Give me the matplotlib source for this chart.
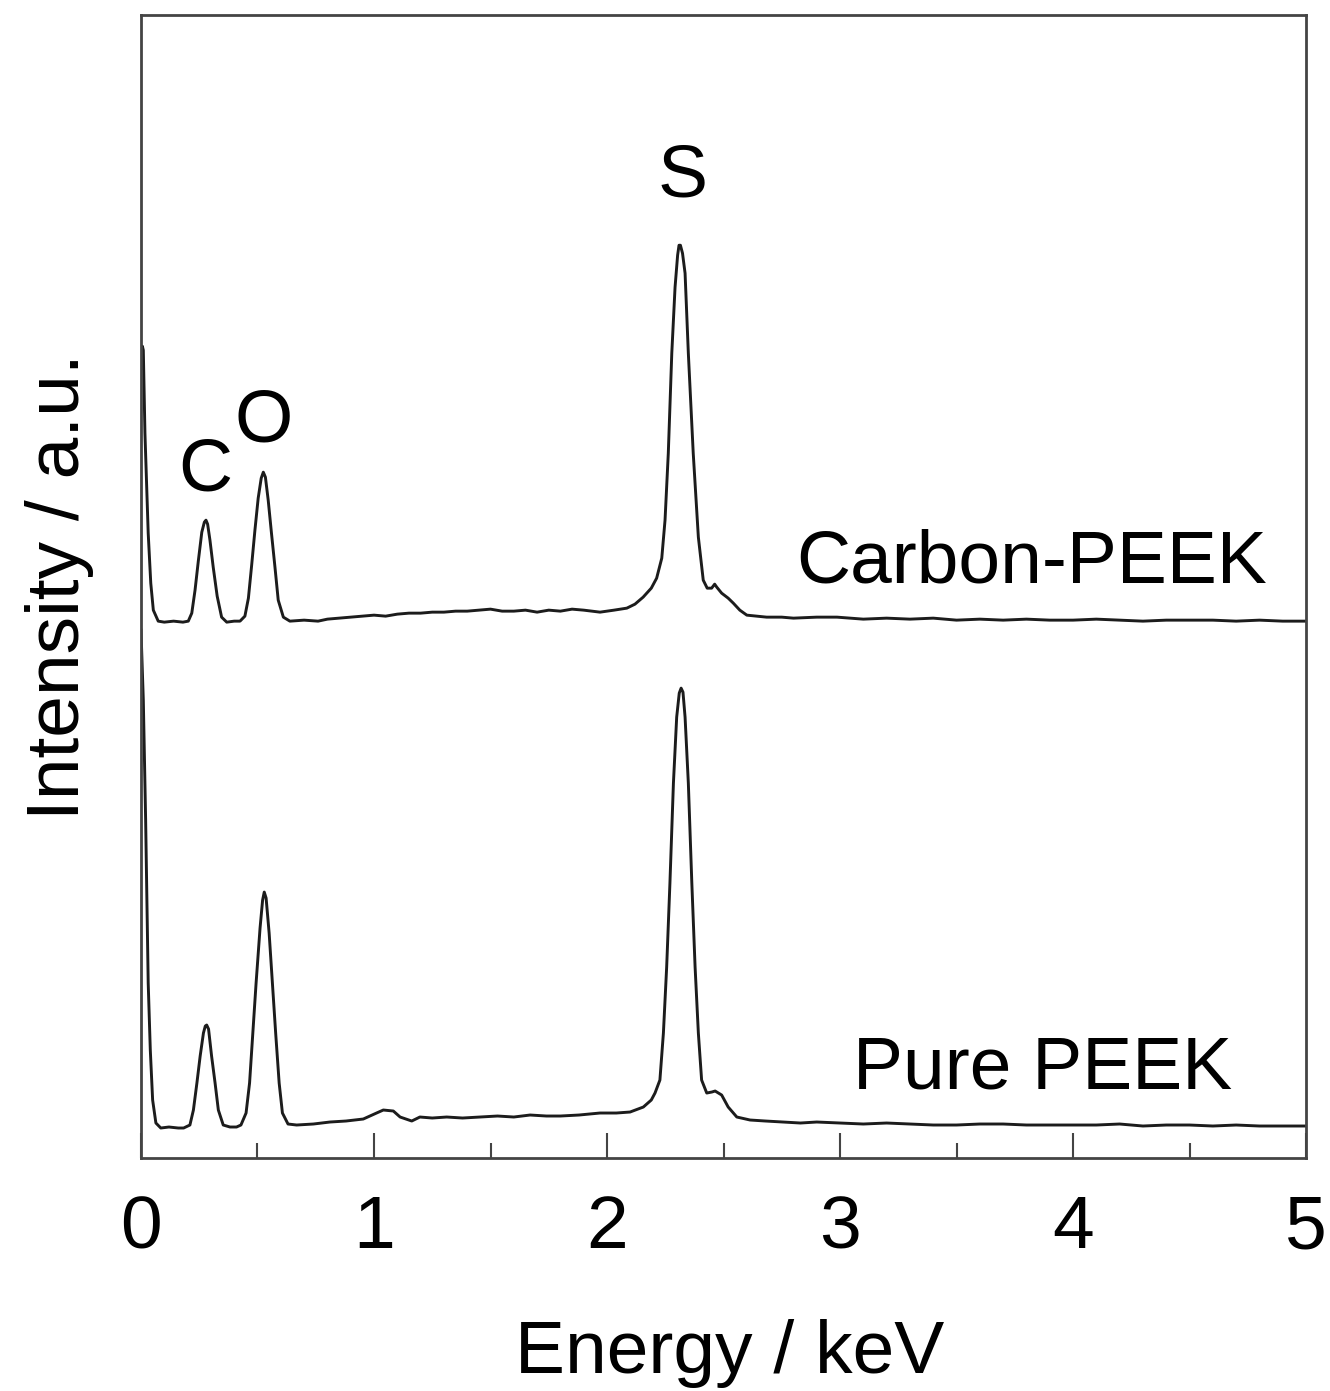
import matplotlib
matplotlib.use("Agg")
import matplotlib.pyplot as plt
from matplotlib.ticker import MultipleLocator

plt.rcParams['font.family'] = ['Liberation Sans', 'DejaVu Sans']

# --- spectra (energy in keV, intensity in a.u., stacked) ---

carbon_energy = [
    0.000, 0.006, 0.010, 0.017, 0.031, 0.042, 0.053, 0.074, 0.100, 0.140, 0.180,
    0.203, 0.218, 0.232, 0.246, 0.261, 0.272, 0.279, 0.286, 0.296, 0.310, 0.327,
    0.346, 0.368, 0.400, 0.425, 0.446, 0.461, 0.475, 0.489, 0.503, 0.516, 0.525,
    0.534, 0.546, 0.560, 0.575, 0.589, 0.611, 0.639, 0.700, 0.760, 0.800, 0.850,
    0.900, 0.950, 1.000, 1.050, 1.100, 1.150, 1.200, 1.250, 1.300, 1.350, 1.400,
    1.450, 1.500, 1.550, 1.600, 1.650, 1.700, 1.750, 1.800, 1.850, 1.900, 1.970,
    2.030, 2.085, 2.120, 2.155, 2.190, 2.213, 2.235, 2.249, 2.263, 2.278, 2.292,
    2.303, 2.309, 2.315, 2.324, 2.335, 2.349, 2.370, 2.392, 2.413, 2.430, 2.449,
    2.462, 2.471, 2.492, 2.520, 2.542, 2.570, 2.600, 2.685, 2.750, 2.800, 2.900,
    2.987, 3.100, 3.200, 3.300, 3.400, 3.500, 3.600, 3.700, 3.800, 3.900, 4.000,
    4.100, 4.200, 4.300, 4.400, 4.500, 4.600, 4.700, 4.800, 4.900, 5.000,
]
carbon_intensity = [
    790, 812, 808, 725, 625, 575, 548, 537, 536, 537, 536,
    537, 545, 568, 597, 626, 636, 638, 634, 618, 591, 562,
    541, 536, 537, 537, 542, 560, 593, 628, 660, 680, 686,
    681, 658, 625, 591, 558, 541, 537, 538, 537, 539, 540,
    541, 542, 543, 542, 544, 545, 545, 546, 546, 547, 547,
    548, 549, 547, 547, 548, 546, 548, 547, 549, 548, 546,
    548, 550, 554, 561, 570, 580, 600, 638, 705, 805, 871,
    903, 913, 913, 905, 885, 805, 705, 621, 578, 570, 570,
    574, 571, 565, 560, 555, 548, 543, 541, 541, 540, 541,
    541, 539, 540, 539, 540, 538, 539, 538, 539, 538, 538,
    539, 538, 537, 538, 538, 538, 537, 538, 537, 537,
]

pure_energy = [
    0.000, 0.010, 0.020, 0.031, 0.040, 0.050, 0.064, 0.085, 0.120, 0.160, 0.183,
    0.210, 0.225, 0.240, 0.254, 0.268, 0.276, 0.282, 0.290, 0.303, 0.318, 0.332,
    0.353, 0.382, 0.410, 0.429, 0.451, 0.466, 0.480, 0.494, 0.511, 0.522, 0.529,
    0.537, 0.550, 0.564, 0.578, 0.593, 0.607, 0.631, 0.668, 0.740, 0.811, 0.880,
    0.954, 1.011, 1.040, 1.083, 1.112, 1.162, 1.197, 1.250, 1.312, 1.380, 1.455,
    1.530, 1.600, 1.670, 1.740, 1.800, 1.880, 1.970, 2.040, 2.099, 2.156, 2.190,
    2.206, 2.227, 2.242, 2.256, 2.270, 2.285, 2.299, 2.310, 2.318, 2.326, 2.335,
    2.349, 2.364, 2.378, 2.392, 2.406, 2.428, 2.450, 2.464, 2.492, 2.520, 2.557,
    2.614, 2.680, 2.755, 2.830, 2.900, 3.000, 3.100, 3.200, 3.300, 3.400, 3.500,
    3.600, 3.700, 3.800, 3.900, 4.000, 4.100, 4.200, 4.300, 4.400, 4.500, 4.600,
    4.700, 4.800, 4.900, 5.000,
]
pure_intensity = [
    528, 458, 338, 175, 108, 58, 35, 30, 31, 30, 30,
    33, 48, 75, 102, 125, 132, 133, 129, 102, 75, 48,
    33, 31, 31, 33, 45, 75, 125, 175, 230, 258, 266,
    260, 225, 175, 125, 75, 45, 34, 33, 34, 36, 37,
    39, 45, 48, 47, 41, 37, 41, 40, 41, 40, 41,
    42, 41, 43, 42, 42, 43, 45, 45, 46, 51, 58,
    65, 78, 125, 191, 275, 375, 441, 465, 470, 466, 441,
    375, 275, 191, 125, 78, 65, 66, 67, 63, 51, 41,
    38, 37, 36, 35, 36, 35, 34, 35, 34, 33, 33,
    34, 34, 33, 33, 33, 33, 34, 32, 33, 33, 32,
    33, 32, 32, 32,
]

peak_labels = ['C', 'O', 'S']
peak_label_pos = [(0.275, 668), (0.528, 717), (2.326, 962)]
sample_labels = ['Carbon-PEEK', 'Pure PEEK']
sample_label_pos = [(3.824, 576), (3.870, 70)]

# --- figure ---
fig = plt.figure(figsize=(13.3, 13.91), dpi=100)
ax = fig.add_axes([0.106, 0.1675, 0.876, 0.8215])

line_color = '#1c1c1c'
ax.plot(carbon_energy, carbon_intensity, color=line_color, lw=2.1)
ax.plot(pure_energy, pure_intensity, color=line_color, lw=2.1)

ax.set_xlim(0, 5)
ax.set_ylim(0, 1143)

fs = 54
for lab, (x, y) in zip(peak_labels, peak_label_pos):
    ax.text(x, y, lab, fontsize=fs, ha='center', va='baseline')
for lab, (x, y) in zip(sample_labels, sample_label_pos):
    ax.text(x, y, lab, fontsize=fs, ha='center', va='baseline')

# axes styling
for sp in ax.spines.values():
    sp.set_linewidth(2.0)
    sp.set_color('#444444')

ax.xaxis.set_major_locator(MultipleLocator(1))
ax.xaxis.set_minor_locator(MultipleLocator(0.5))
ax.tick_params(axis='x', which='major', direction='in', length=18, width=1.5,
               color='#444444', labelsize=fs, pad=26, top=False)
ax.tick_params(axis='x', which='minor', direction='in', length=11, width=1.5,
               color='#444444', top=False)
ax.set_yticks([])

ax.set_xlabel('Energy / keV', fontsize=fs)
ax.xaxis.set_label_coords(0.505, -0.141)
ax.set_ylabel('Intensity / a.u.', fontsize=fs)
ax.yaxis.set_label_coords(-0.040, 0.5)

fig.savefig('out.png', dpi=100)
